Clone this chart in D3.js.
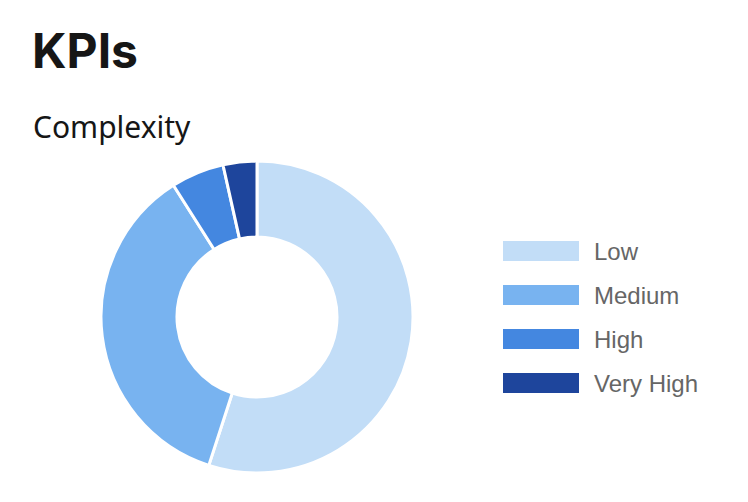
<!DOCTYPE html>
<html>
<head>
<meta charset="utf-8">
<script src="https://cdn.jsdelivr.net/npm/d3@7"></script>
<style>
    body { margin: 0; background: #fff; }
</style>
</head>
<body>
<div id="chart"></div>
<script>
// Chart data
let categories = ["Low", "Medium", "High", "Very High"];
let values = [55, 36, 5.5, 3.5];
let colors = ["#c2ddf7", "#78b3f0", "#4487e0", "#1e459c"];

let width = 748, height = 502;

let svg = d3.select("#chart").append("svg")
    .attr("width", width)
    .attr("height", height);

// Title and subtitle
svg.append("text")
    .attr("x", 32)
    .attr("y", 68)
    .style("font-family", "Inter, 'Noto Sans', sans-serif")
    .style("font-weight", "700")
    .style("font-size", "48px")
    .style("fill", "#161616")
    .text("KPIs");

svg.append("text")
    .attr("x", 33)
    .attr("y", 138)
    .style("font-family", "'Noto Sans', sans-serif")
    .style("font-size", "30px")
    .style("fill", "#161616")
    .text("Complexity");

// Donut
let color = d3.scaleOrdinal().domain(categories).range(colors);
let pie = d3.pie().sort(null).value(function(d, i) { return values[i]; });
let arc = d3.arc().innerRadius(80).outerRadius(156);

let g = svg.append("g")
    .attr("transform", "translate(257,317)");

g.selectAll("path")
    .data(pie(categories))
    .enter().append("path")
    .attr("d", arc)
    .style("fill", function(d) { return color(d.data); })
    .style("stroke", "#fff")
    .style("stroke-width", 3);

// Legend
let legend = svg.append("g")
    .attr("transform", "translate(503,241)");

let item = legend.selectAll("g")
    .data(categories)
    .enter().append("g")
    .attr("transform", function(d, i) { return "translate(0," + (i * 44) + ")"; });

item.append("rect")
    .attr("width", 76)
    .attr("height", 20)
    .style("fill", function(d) { return color(d); });

item.append("text")
    .attr("x", 91)
    .attr("y", 19)
    .style("font-family", "'Liberation Sans', Arial, sans-serif")
    .style("font-size", "24px")
    .style("fill", "#666")
    .text(function(d) { return d; });
</script>
</body>
</html>
